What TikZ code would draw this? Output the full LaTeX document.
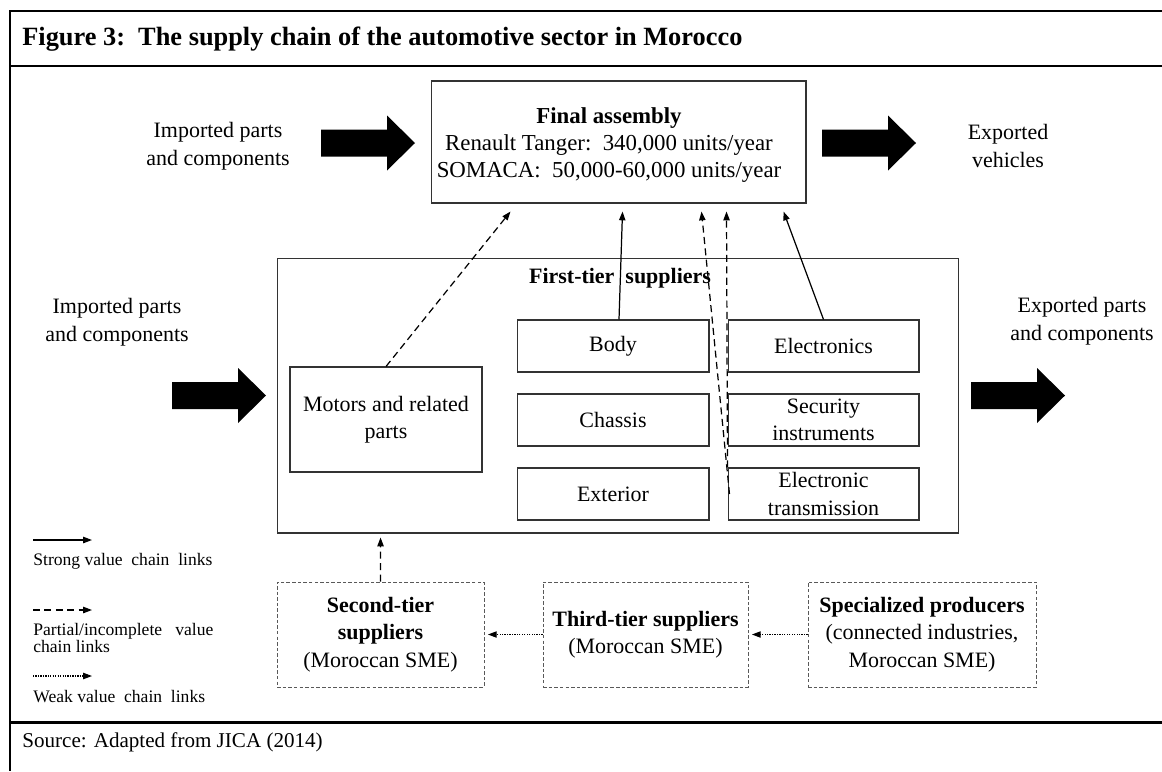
\documentclass[tikz,border=0pt]{standalone}
\usepackage{fontspec}
\setmainfont{Liberation Serif}
\usetikzlibrary{arrows.meta,calc,positioning}

\tikzset{
  txt/.style={align=center, inner sep=0pt, font=\fontsize{12.5}{16}\selectfont},
  part/.style={draw=black!80, line width=0.6pt, minimum width=3.84cm, minimum height=1.04cm,
    align=center, inner sep=1pt, font=\fontsize{12.5}{15.5}\selectfont},
  local/.style={draw=black!65, line width=0.5pt, dash pattern=on 2pt off 1.2pt,
    minimum height=2.1cm, align=center, inner sep=1pt, font=\fontsize{12.5}{15.5}\selectfont},
  legtxt/.style={anchor=west, align=left, inner sep=0pt, font=\fontsize{10}{10}\selectfont},
  strong/.style={-{Triangle[length=5pt,width=3.6pt]}, line width=0.7pt},
  partial/.style={strong, dash pattern=on 4pt off 2.5pt},
  weak/.style={strong, line width=0.6pt, dash pattern=on 0.7pt off 0.7pt},
}

% big black block arrow, #1 = left end of the shaft (centre line)
\newcommand{\blockarrow}[1]{\fill #1 ++(0,-13.5) -- ++(66,0) -- ++(0,-14) -- ++(28,27.5)
  -- ++(-28,27.5) -- ++(0,-14) -- ++(-66,0) -- cycle;}

\begin{document}
\begin{tikzpicture}[x=0.02cm, y=-0.02cm]
\useasboundingbox (0,0) rectangle (1162,771);

% frame
\draw[line width=1.7pt] (1162,11) -- (10,11) -- (10,771);
\draw[line width=1.7pt] (10,66) -- (1162,66);
\draw[line width=1.7pt] (10,722) -- (1162,722);

\node[anchor=west, inner sep=0pt, font=\bfseries\fontsize{15}{17}\selectfont] (title) at (22,39)
  {Figure 3:\ \ The supply chain of the automotive sector in Morocco};
\node[anchor=west, inner sep=0pt, font=\fontsize{12}{14}\selectfont] (src) at (22,742)
  {Source: Adapted from JICA (2014)};

% final assembly
\node[draw=black!80, line width=0.6pt, minimum width=7.5cm, minimum height=2.44cm] (final) at (618.5,142) {};
\node[txt, font=\fontsize{13}{15.5}\selectfont] (finaltxt) at (609,145)
  {\textbf{Final assembly}\\Renault Tanger:\ \ 340,000 units/year\\SOMACA:\ \ 50,000-60,000 units/year};

\node[txt] (impA) at (218,146) {Imported parts\\and components};
\node[txt] (expV) at (1008,146) {Exported\\vehicles};
\blockarrow{(321,143)}
\blockarrow{(822,143)}

% first-tier suppliers
\node[draw=black!80, line width=0.6pt, minimum width=13.64cm, minimum height=5.5cm] (tier1) at (618,395.5) {};
\node[txt, font=\bfseries\fontsize{12.5}{15}\selectfont] (tier1lbl) at (620,278) {First-tier\ \ suppliers};

\node[part, minimum height=2.1cm] (motors) at (386,419.5) {Motors and related\\parts};
\node[part] (body) at (613,346) {Body};
\node[part] (chassis) at (613,420) {Chassis};
\node[part] (exterior) at (613,494) {Exterior};
\node[part, minimum width=3.82cm] (elec) at (823.5,346) {Electronics};
\node[part, minimum width=3.82cm] (secur) at (823.5,420) {Security\\instruments};
\node[part, minimum width=3.82cm] (etrans) at (823.5,494) {Electronic\\transmission};

\node[txt] (impB) at (117,322) {Imported parts\\and components};
\node[txt] (expP) at (1082,321) {Exported parts\\and components};
\blockarrow{(172,395.5)}
\blockarrow{(971,395.5)}

% links to final assembly
\draw[partial] (motors.north) -- ($(final.south west)+(80,8)$);
\draw[strong] ($(body.north)+(6,0)$) -- ($(final.south west)+(192,8)$);
\draw[partial] ($(etrans.west)+(2,0)$) -- ($(final.south west)+(271,8)$);
\draw[partial] (etrans.north west) -- ($(final.south west)+(296,8)$);
\draw[strong] (elec.north) -- ($(final.south west)+(353,8)$);

% local suppliers
\node[local, minimum width=4.14cm] (second) at (380.5,634.5)
  {\textbf{Second-tier}\\\textbf{suppliers}\\(Moroccan SME)};
\node[local, minimum width=4.1cm] (third) at (645.5,634.5)
  {\textbf{Third-tier suppliers}\\(Moroccan SME)};
\node[local, minimum width=4.56cm] (special) at (922,634.5)
  {\textbf{Specialized producers}\\(connected industries,\\Moroccan SME)};

\draw[partial] (second.north) -- ($(tier1.south west)+(104,4)$);
\draw[weak, shorten >=2pt] (third.west) -- (second.east);
\draw[weak, shorten >=2pt] (special.west) -- (third.east);

% legend
\coordinate (lg1a) at (33,540); \coordinate (lg1b) at (92,540);
\coordinate (lg2a) at (33,610); \coordinate (lg2b) at (92,610);
\coordinate (lg3a) at (33,676); \coordinate (lg3b) at (92,676);
\draw[strong] (lg1a) -- (lg1b);
\draw[partial] (lg2a) -- (lg2b);
\draw[weak] (lg3a) -- (lg3b);
\node[legtxt] (lg1t) at (33,561) {Strong value\ \ chain\ \ links};
\node[legtxt] (lg2t) at (33,638) {Partial/incomplete\ \ \ value\\chain links};
\node[legtxt] (lg3t) at (33,697) {Weak value\ \ chain\ \ links};
\end{tikzpicture}
\end{document}
